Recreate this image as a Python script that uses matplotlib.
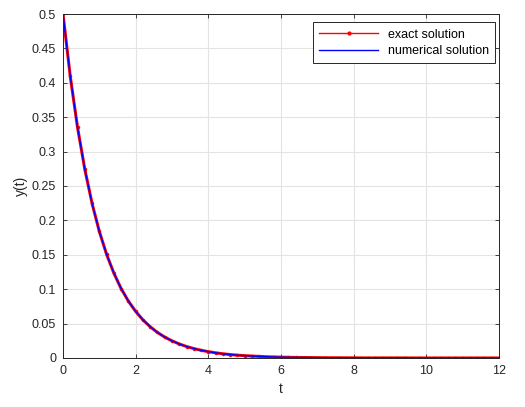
import matplotlib
matplotlib.use("Agg")
import matplotlib.pyplot as plt
from matplotlib.lines import Line2D

t_values = [round(0.2 * i, 1) for i in range(61)]
y_exact = [
    0.5, 0.4094, 0.3352, 0.2744, 0.2247, 0.1839, 0.1506, 0.1233, 0.1009, 0.0826,
    0.0677, 0.0554, 0.0454, 0.0371, 0.0304, 0.0249, 0.0204, 0.0167, 0.0137, 0.0112,
    0.0092, 0.0075, 0.0061, 0.0050, 0.0041, 0.0034, 0.0028, 0.0023, 0.0018, 0.0015,
    0.0012, 0.0010, 0.0008, 0.0007, 0.0006, 0.0005, 0.0004, 0.0003, 0.0003, 0.0002,
    0.0002, 0.0001, 0.0001, 0.0001, 0.0001, 0.0001, 0.0001, 0.0001, 0.0000, 0.0000,
    0.0000, 0.0000, 0.0000, 0.0000, 0.0000, 0.0000, 0.0000, 0.0000, 0.0000, 0.0000,
    0.0000,
]
y_numerical = list(y_exact)

x_ticks = [0, 2, 4, 6, 8, 10, 12]
y_ticks = [0, 0.05, 0.1, 0.15, 0.2, 0.25, 0.3, 0.35, 0.4, 0.45, 0.5]
y_tick_labels = ["0", "0.05", "0.1", "0.15", "0.2", "0.25", "0.3", "0.35", "0.4", "0.45", "0.5"]

plt.rcParams["font.family"] = ["Liberation Sans", "DejaVu Sans"]
plt.rcParams["font.size"] = 9

fig = plt.figure(figsize=(5.25, 4.07), dpi=100)
ax = fig.add_axes([0.12, 0.1204, 0.8305, 0.8452])

ax.plot(t_values, y_exact, color="red", linewidth=2.2, marker=".",
        markersize=3)
ax.plot(t_values, y_numerical, color="blue", linewidth=1.0)

ax.set_xlim(0, 12)
ax.set_ylim(0, 0.5)
ax.set_xticks(x_ticks)
ax.set_yticks(y_ticks)
ax.set_yticklabels(y_tick_labels)
ax.grid(True, color="#e3e3e3", linewidth=0.8)
ax.set_axisbelow(True)
ax.tick_params(direction="in", length=3, width=0.6, colors="#262626",
               labelsize=9, top=True, right=True, pad=5)
for spine in ax.spines.values():
    spine.set_color("#262626")
    spine.set_linewidth(0.7)

ax.set_xlabel("t", fontsize=10, color="#262626", labelpad=4)
ax.set_ylabel("y(t)", fontsize=10, color="#262626", labelpad=3)

handles = [
    Line2D([], [], color="red", linewidth=1.0, marker=".", markersize=4),
    Line2D([], [], color="blue", linewidth=1.0),
]
leg = ax.legend(handles, ["exact solution", "numerical solution"],
                loc="upper right", bbox_to_anchor=(1.006, 0.994), fontsize=9,
                fancybox=False, framealpha=1, edgecolor="#262626",
                numpoints=1, handlelength=4.7, borderpad=0.5, labelspacing=0.35)
leg.get_frame().set_linewidth(0.7)

fig.savefig("out.png", dpi=100)
